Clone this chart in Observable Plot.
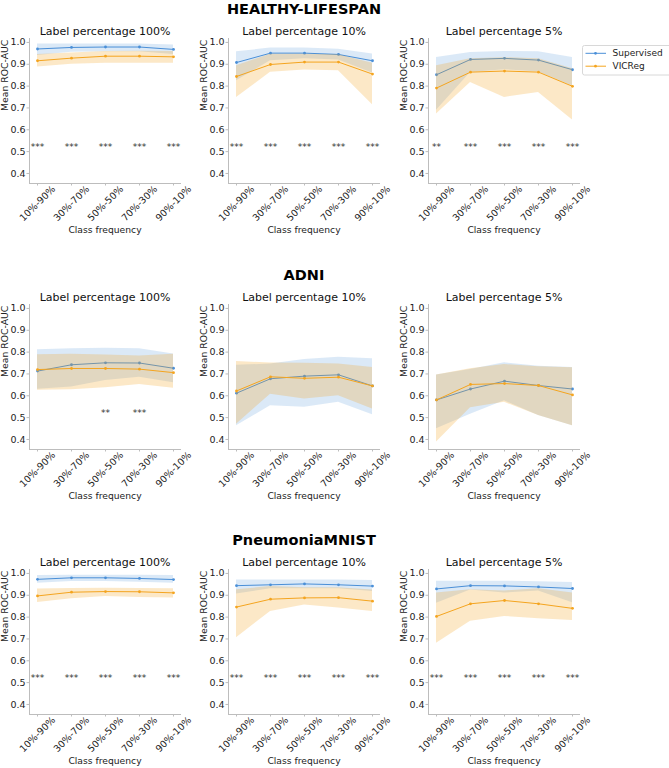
<!DOCTYPE html>
<html><head><meta charset="utf-8">
<script src="https://cdn.jsdelivr.net/npm/d3@7"></script>
<script src="https://cdn.jsdelivr.net/npm/@observablehq/plot@0.6"></script>
<style>
body{margin:0;background:#fff;font-family:"DejaVu Sans",sans-serif;}
#root{position:relative;width:669px;height:768px;overflow:hidden;background:#fff;}
#root > svg{position:absolute;}
</style></head><body><div id="root"></div>
<script>
// ---------- data ----------
const classFreq = ["10%-90%", "30%-70%", "50%-50%", "70%-30%", "90%-10%"];
const datasets = ["HEALTHY-LIFESPAN", "ADNI", "PneumoniaMNIST"];
const labelPcts = ["100%", "10%", "5%"];
const seriesNames = ["Supervised", "VICReg"];
const yTicks = [0.4, 0.5, 0.6, 0.7, 0.8, 0.9, 1.0];

// each value: [lower, mean, upper]
const HL_100_sup = [[0.940,0.970,0.993],[0.955,0.977,0.993],[0.957,0.979,0.993],[0.957,0.979,0.993],[0.945,0.968,0.988]];
const HL_100_vic = [[0.888,0.916,0.945],[0.900,0.928,0.952],[0.905,0.937,0.958],[0.905,0.937,0.960],[0.905,0.934,0.958]];
const HL_10_sup  = [[0.825,0.908,0.957],[0.916,0.951,0.974],[0.925,0.951,0.974],[0.920,0.945,0.969],[0.860,0.916,0.947]];
const HL_10_vic  = [[0.748,0.844,0.893],[0.863,0.899,0.946],[0.874,0.910,0.946],[0.870,0.910,0.944],[0.715,0.855,0.905]];
const HL_5_sup   = [[0.690,0.852,0.931],[0.862,0.922,0.954],[0.875,0.927,0.959],[0.865,0.919,0.957],[0.800,0.875,0.931]];
const HL_5_vic   = [[0.672,0.791,0.893],[0.817,0.864,0.925],[0.748,0.869,0.930],[0.771,0.864,0.925],[0.645,0.799,0.880]];

const AD_100_sup = [[0.630,0.713,0.811],[0.640,0.742,0.815],[0.670,0.751,0.818],[0.685,0.750,0.815],[0.660,0.726,0.791]];
const AD_100_vic = [[0.625,0.720,0.788],[0.628,0.725,0.790],[0.637,0.725,0.787],[0.652,0.722,0.782],[0.635,0.706,0.790]];
const AD_10_sup  = [[0.463,0.612,0.740],[0.554,0.678,0.745],[0.547,0.690,0.766],[0.570,0.696,0.776],[0.513,0.645,0.770]];
const AD_10_vic  = [[0.470,0.622,0.757],[0.607,0.687,0.750],[0.585,0.680,0.749],[0.600,0.685,0.745],[0.540,0.645,0.730]];
const AD_5_sup   = [[0.449,0.581,0.695],[0.515,0.631,0.720],[0.577,0.667,0.751],[0.510,0.647,0.735],[0.463,0.631,0.730]];
const AD_5_vic   = [[0.388,0.581,0.695],[0.545,0.652,0.724],[0.570,0.656,0.743],[0.510,0.647,0.733],[0.463,0.604,0.728]];

const PN_100_sup = [[0.955,0.973,0.990],[0.963,0.980,0.992],[0.963,0.980,0.992],[0.960,0.977,0.992],[0.955,0.972,0.990]];
const PN_100_vic = [[0.867,0.897,0.929],[0.884,0.914,0.931],[0.894,0.917,0.932],[0.890,0.916,0.931],[0.887,0.911,0.930]];
const PN_10_sup  = [[0.906,0.944,0.970],[0.930,0.948,0.970],[0.930,0.952,0.970],[0.930,0.948,0.970],[0.917,0.942,0.968]];
const PN_10_vic  = [[0.705,0.846,0.925],[0.826,0.882,0.940],[0.856,0.888,0.935],[0.842,0.889,0.935],[0.826,0.873,0.924]];
const PN_5_sup   = [[0.864,0.929,0.964],[0.924,0.944,0.964],[0.910,0.943,0.964],[0.920,0.938,0.962],[0.866,0.931,0.959]];
const PN_5_vic   = [[0.680,0.803,0.910],[0.781,0.861,0.925],[0.803,0.876,0.920],[0.793,0.861,0.930],[0.785,0.840,0.910]];

// significance stars per class frequency
const HL_100_stars = ["***","***","***","***","***"];
const HL_10_stars  = ["***","***","***","***","***"];
const HL_5_stars   = ["**","***","***","***","***"];
const AD_100_stars = ["","","**","***",""];
const AD_10_stars  = ["","","","",""];
const AD_5_stars   = ["","","","",""];
const PN_100_stars = ["***","***","***","***","***"];
const PN_10_stars  = ["***","***","***","***","***"];
const PN_5_stars   = ["***","***","***","***","***"];

const panels = [
  [[HL_100_sup, HL_100_vic, HL_100_stars], [HL_10_sup, HL_10_vic, HL_10_stars], [HL_5_sup, HL_5_vic, HL_5_stars]],
  [[AD_100_sup, AD_100_vic, AD_100_stars], [AD_10_sup, AD_10_vic, AD_10_stars], [AD_5_sup, AD_5_vic, AD_5_stars]],
  [[PN_100_sup, PN_100_vic, PN_100_stars], [PN_10_sup, PN_10_vic, PN_10_stars], [PN_5_sup, PN_5_vic, PN_5_stars]]
];

// ---------- style ----------
const BLUE = "#4a8fd8";
const ORANGE = "#f5a51f";
const AXIS = "#bdbdbd";
const FONT = "DejaVu Sans";
const colLeft = [0, 199, 399];
const rowTop = [0, 265.7, 531.4];

function panel(sup, vic, stars, subtitle, title) {
  const rows = (arr, s) => arr.map((v, i) => ({series: s, cls: classFreq[i], lo: v[0], mean: v[1], hi: v[2]}));
  const S = rows(sup, "Supervised"), V = rows(vic, "VICReg");
  const starRows = stars.map((t, i) => ({cls: classFreq[i], t})).filter(d => d.t);
  const marks = [
    Plot.frame({anchor: "left", stroke: AXIS}),
    Plot.frame({anchor: "bottom", stroke: AXIS}),
    Plot.axisY(yTicks, {tickSize: 2.5, tickPadding: 1.5, tickFormat: d3.format(".1f"), stroke: AXIS, fill: "#222", label: null, fontSize: 9.5}),
    Plot.axisX({tickSize: 2.5, tickFormat: () => "", stroke: AXIS, label: null}),
    Plot.text(classFreq, {x: d => d, frameAnchor: "bottom", dy: 20, rotate: -45, textAnchor: "middle", lineAnchor: "middle", fontSize: 9.5, fill: "#222"}),
    Plot.text(["Class frequency"], {frameAnchor: "bottom", dy: 46.5, lineAnchor: "middle", fontSize: 9.2, fill: "#222"}),
    Plot.text(["Mean ROC-AUC"], {frameAnchor: "left", dx: -24, rotate: -90, lineAnchor: "middle", fontSize: 9.3, fill: "#222"}),
    Plot.text([subtitle], {frameAnchor: "top", dy: -7.5, lineAnchor: "middle", fontSize: 11, fill: "#111"}),
    Plot.line(S, {x: "cls", y: "mean", stroke: BLUE, strokeWidth: 1}),
    Plot.dot(S, {x: "cls", y: "mean", r: 1.4, fill: BLUE}),
    Plot.areaY(S, {x: "cls", y1: "lo", y2: "hi", fill: BLUE, fillOpacity: 0.2}),
    Plot.line(V, {x: "cls", y: "mean", stroke: ORANGE, strokeWidth: 1}),
    Plot.dot(V, {x: "cls", y: "mean", r: 1.4, fill: ORANGE}),
    Plot.areaY(V, {x: "cls", y1: "lo", y2: "hi", fill: ORANGE, fillOpacity: 0.25}),
    Plot.text(starRows, {x: "cls", y: () => 0.52, text: "t", lineAnchor: "middle", fontSize: 9, fill: "#333"})
  ];
  if (title) marks.push(Plot.text([title], {frameAnchor: "top", dy: -29.5, lineAnchor: "middle", fontSize: 14.5, fontWeight: "bold", fill: "#000"}));
  return Plot.plot({
    width: 200, height: 238,
    marginLeft: 29, marginRight: 20, marginTop: 38, marginBottom: 55,
    style: {fontFamily: FONT, fontSize: "9.5px", background: "none", overflow: "visible", color: "#222"},
    x: {type: "point", domain: classFreq, padding: 0.2},
    y: {domain: [0.354, 1.018]},
    marks
  });
}

const root = document.getElementById("root");
panels.forEach((row, r) => {
  row.forEach(([sup, vic, stars], c) => {
    const svg = panel(sup, vic, stars, "Label percentage " + labelPcts[c], c === 1 ? datasets[r] : null);
    svg.style.position = "absolute";
    svg.style.left = colLeft[c] + "px";
    svg.style.top = rowTop[r] + "px";
    root.appendChild(svg);
  });
});

// legend
const leg = d3.create("svg").attr("width", 669).attr("height", 90)
  .style("position", "absolute").style("left", "0px").style("top", "0px");
const lg = leg.append("g").attr("font-family", FONT).attr("font-size", 9);
lg.append("rect").attr("x", 582.5).attr("y", 45.5).attr("width", 92).attr("height", 29.5).attr("rx", 2)
  .attr("fill", "#fff").attr("fill-opacity", 0.8).attr("stroke", "#d8d8d8");
[BLUE, ORANGE].forEach((col, i) => {
  const y = 53.3 + i * 12.9;
  lg.append("line").attr("x1", 585.5).attr("x2", 606).attr("y1", y).attr("y2", y).attr("stroke", col).attr("stroke-width", 1);
  lg.append("circle").attr("cx", 595.5).attr("cy", y).attr("r", 1.4).attr("fill", col);
  lg.append("text").attr("x", 612.5).attr("y", y).attr("dy", "0.35em").attr("fill", "#222").text(seriesNames[i]);
});
root.appendChild(leg.node());
</script></body></html>
